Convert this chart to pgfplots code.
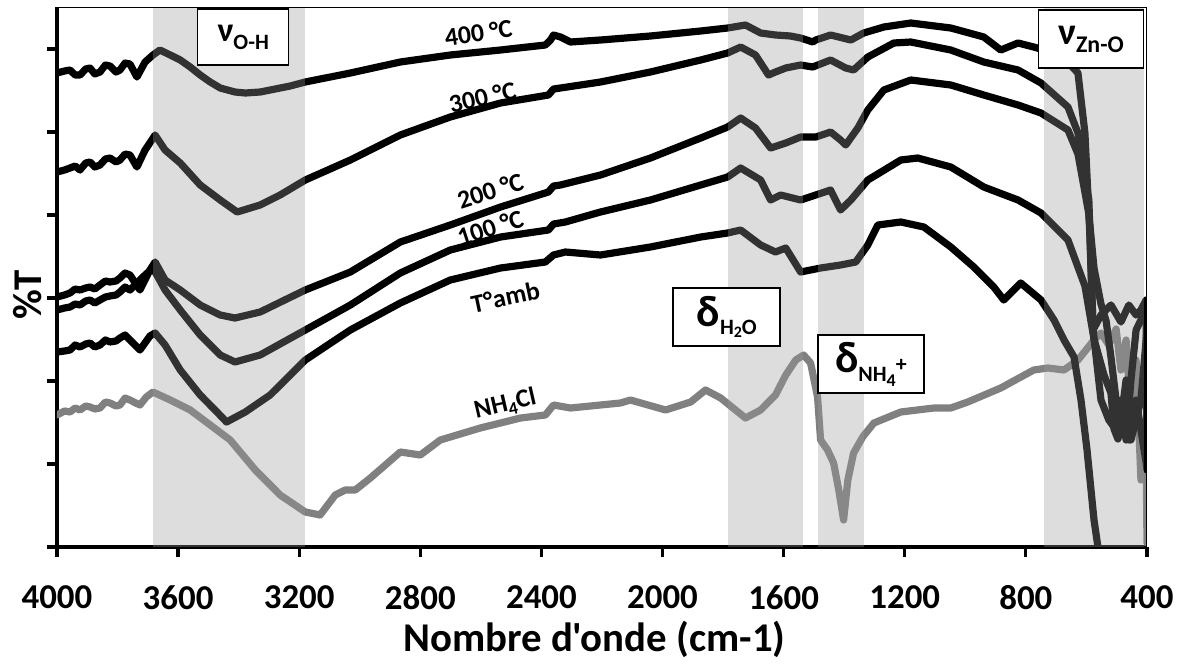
\documentclass[border=0pt]{standalone}
\usepackage{fontspec}
\setmainfont{Carlito}[Ligatures=TeXOff]
\usepackage{pgfplots}
\pgfplotsset{compat=1.18}
\begin{document}
\begin{tikzpicture}
\begin{axis}[
  at={(0,0)}, anchor=south west,
  width=545bp, height=270bp, scale only axis,
  xmin=400, xmax=4000, ymin=0, ymax=540, x dir=reverse,
  axis x line*=bottom, axis y line*=left,
  axis line style={line width=2bp, black},
  xtick={400,800,...,4000},
  ytick={0,83,166,249,332,415,498}, yticklabels={},
  tick align=outside, major tick length=5bp,
  tick style={line width=1.6bp, black},
  minor tick num=0,
  /pgf/number format/assume math mode=true,
  /pgf/number format/1000 sep={},
  xticklabel style={font=\fontsize{17.5}{20}\selectfont\bfseries, anchor=north, inner sep=0pt, yshift=-14bp},
  xlabel={Nombre d'onde (cm-1)},
  xlabel style={font=\fontsize{20.5}{22}\selectfont\bfseries, at={(axis description cs:0.493,-0.194)}, anchor=base},
  ylabel={\%T},
  ylabel style={font=\fontsize{20.5}{22}\selectfont\bfseries, at={(axis description cs:-0.0266,0.467)}, anchor=center},
  every axis plot/.append style={line width=3.6bp, line join=round, line cap=round},
]
% NH4Cl
\addplot[color=black!50] coordinates {
(4000,132)(3975,136)(3957,135)(3940,139)(3924,137)(3905,141)(3891,140)(3875,138)(3858,139)(3840,145)(3825,144)(3805,141)(3792,142)(3775,149)(3759,147)(3740,144)(3726,142)(3705,150)(3683,155)
(3626,147)(3560,137)(3494,122)(3428,107)(3345,77)(3263,52)(3180,35)(3131,32)(3081,52)(3048,57)
(3015,57)(2965,69)(2866,95)(2800,92)(2734,107)(2602,119)(2469,129)(2387,132)(2360,142)(2304,139)
(2139,144)(2106,147)(1990,137)(1907,145)(1858,157)(1808,149)(1759,137)(1726,129)(1676,137)(1627,152)
(1593,172)(1560,187)(1534,192)(1511,184)(1488,150)(1478,107)(1455,97)(1435,84)(1418,57)(1402,27)
(1388,67)(1369,94)(1339,110)(1302,124)(1213,135)(1104,139)(1048,139)(992,145)(883,159)(774,177)
(727,179)(674,177)(628,187)(575,207)(552,214)(526,202)(502,218)(486,177)(469,207)(453,127)
(436,187)(420,67)(403,97)(400,4)};
% T amb
\addplot[color=black] coordinates {
(4000,195)(3975,196)(3957,197)(3940,202)(3924,200)(3905,203)(3891,204)(3875,200)(3858,202)(3840,207)(3825,205)(3805,206)(3792,209)(3775,212)(3759,207)(3726,197)(3693,211)
(3676,214)(3643,202)(3593,177)(3527,152)(3478,137)(3440,125)(3378,135)(3296,152)(3180,187)(3031,217)
(2866,244)(2701,267)(2535,279)(2387,285)(2360,292)(2321,295)(2205,292)(2040,300)(1874,310)(1785,314)
(1742,317)(1676,302)(1627,295)(1593,299)(1544,275)(1478,279)(1412,282)(1362,285)(1322,302)(1289,322)
(1213,325)(1137,320)(1048,300)(972,280)(906,260)(873,247)(817,264)(750,247)(707,227)(674,207)
(641,190)(618,147)(598,97)(575,27)(562,0)(552,-13)};
% 100 C
\addplot[color=black] coordinates {
(4000,237)(3975,239)(3957,240)(3940,243)(3924,242)(3905,246)(3891,247)(3875,244)(3858,247)(3840,250)(3825,251)(3805,252)(3792,255)(3775,260)(3759,257)(3709,272)(3683,279)
(3643,257)(3593,237)(3527,212)(3461,192)(3412,185)(3329,192)(3180,217)(3031,242)(2866,274)(2701,297)
(2535,310)(2377,317)(2360,323)(2321,325)(2205,335)(2040,347)(1874,362)(1785,370)(1742,379)(1676,367)
(1643,347)(1610,352)(1544,347)(1494,352)(1445,357)(1412,337)(1378,347)(1322,367)(1213,387)(1157,389)
(1048,380)(939,360)(826,347)(750,334)(661,307)(605,261)(575,208)(542,172)(519,154)(509,118)
(496,108)(479,127)(460,107)(436,147)(420,117)(400,79)};
% 200 C
\addplot[color=black] coordinates {
(4000,250)(3975,252)(3957,254)(3940,258)(3924,257)(3905,259)(3891,260)(3875,258)(3858,262)(3840,266)(3825,265)(3805,266)(3792,269)(3775,274)(3759,272)(3726,257)(3693,277)
(3676,285)(3643,267)(3593,257)(3527,242)(3461,232)(3412,229)(3329,235)(3180,257)(3031,275)(2866,305)
(2701,322)(2535,340)(2377,355)(2360,361)(2337,362)(2205,372)(2040,389)(1874,409)(1785,420)(1742,429)
(1693,419)(1643,399)(1593,404)(1544,410)(1494,410)(1445,415)(1412,407)(1395,402)(1355,419)(1322,437)
(1269,457)(1180,467)(1048,462)(939,452)(826,442)(750,434)(661,417)(628,393)(592,333)(575,279)
(552,243)(535,226)(519,190)(502,147)(486,127)(469,167)(453,107)(420,147)(400,217)};
% 300 C
\addplot[color=black] coordinates {
(4000,375)(3975,377)(3957,379)(3940,381)(3924,377)(3905,384)(3891,385)(3875,380)(3858,382)(3840,388)(3825,389)(3805,385)(3792,387)(3775,393)(3759,392)(3736,380)(3709,397)
(3676,412)(3643,397)(3593,384)(3527,362)(3461,347)(3405,335)(3329,342)(3263,352)(3180,367)(3031,387)
(2866,412)(2701,430)(2535,444)(2377,452)(2360,458)(2337,459)(2205,465)(2040,475)(1874,487)(1785,494)
(1742,500)(1693,492)(1650,472)(1627,475)(1593,479)(1544,482)(1504,480)(1445,487)(1395,479)(1369,477)
(1322,490)(1236,504)(1180,505)(1048,497)(939,485)(826,477)(750,464)(661,440)(628,414)(592,347)
(578,217)(552,147)(526,127)(502,117)(486,147)(469,107)(453,167)(436,217)(420,227)(400,237)};
% 400 C
\addplot[color=black] coordinates {
(4000,474)(3975,476)(3957,477)(3940,472)(3924,472)(3905,478)(3891,479)(3875,473)(3858,475)(3840,482)(3825,481)(3805,475)(3792,477)(3775,484)(3759,483)(3736,470)(3709,485)
(3683,492)(3660,497)(3626,492)(3593,487)(3560,480)(3527,472)(3494,465)(3461,459)(3412,455)(3378,454)
(3329,455)(3296,457)(3230,461)(3180,465)(3031,474)(2866,485)(2701,492)(2535,497)(2387,502)(2370,507)
(2360,512)(2337,510)(2304,505)(2205,507)(2040,511)(1874,516)(1785,519)(1726,522)(1676,514)(1627,512)
(1577,511)(1544,509)(1504,505)(1494,507)(1445,512)(1378,507)(1336,514)(1269,520)(1180,524)(1048,519)
(939,510)(883,497)(826,504)(774,500)(684,492)(628,474)(605,414)(589,314)(578,217)(552,232)
(519,242)(486,225)(460,242)(436,232)(420,237)(403,247)(400,77)};
% shaded bands
\fill[black!40, opacity=0.33] (axis cs:3683,0) rectangle (axis cs:3180,540);
\fill[black!40, opacity=0.33] (axis cs:1785,0) rectangle (axis cs:1537,540);
\fill[black!40, opacity=0.33] (axis cs:1488,0) rectangle (axis cs:1336,540);
\fill[black!40, opacity=0.33] (axis cs:740,0) rectangle (axis cs:410,540);
% frame top/right
\draw[line width=0.8bp] (rel axis cs:0,1) -- (rel axis cs:1,1) -- (rel axis cs:1,0);
% curve labels
\begin{scope}[every node/.style={font=\fontsize{13}{14}\selectfont\bfseries, inner sep=0pt}]
\node[rotate=8] at (axis cs:2608,514) {400 °C};
\node[rotate=13] at (axis cs:2595,450) {300 °C};
\node[rotate=18] at (axis cs:2569,356) {200 °C};
\node[rotate=18] at (axis cs:2569,319) {100 °C};
\node[rotate=12] at (axis cs:2519,250) {T°amb};
\node[rotate=13] at (axis cs:2519,142) {NH\raisebox{-2.5bp}{\fontsize{9}{10}\selectfont 4}Cl};
\end{scope}
% band boxes
\begin{scope}[every node/.style={draw, line width=0.8bp, fill=white, inner sep=0pt, font=\bfseries}]
\node[minimum width=45.5bp, minimum height=28bp] at (axis cs:3385,510)
  {\fontsize{17}{18}\selectfont ν\raisebox{-4bp}{\fontsize{11}{12}\selectfont O-H}};
\node[minimum width=52.5bp, minimum height=29bp] at (axis cs:585,508)
  {\fontsize{19}{20}\selectfont ν\raisebox{-4bp}{\fontsize{12}{13}\selectfont Zn-O}};
\node[minimum width=53.5bp, minimum height=29bp] at (axis cs:1788,230)
  {\fontsize{22}{24}\selectfont δ\raisebox{-4bp}{\fontsize{11}{12}\selectfont H\raisebox{-1.5bp}{\fontsize{8}{9}\selectfont 2}O}};
\node[minimum width=53bp, minimum height=29bp] at (axis cs:1312,183)
  {\fontsize{22}{24}\selectfont δ\raisebox{-4.5bp}{\fontsize{11}{12}\selectfont NH\raisebox{-2.5bp}{\fontsize{9}{10}\selectfont 4}\raisebox{5bp}{+}}};
\end{scope}
\end{axis}
\pgfresetboundingbox
\path[use as bounding box] (-28.5bp,-59bp) rectangle (565.5bp,273.5bp);
\end{tikzpicture}
\end{document}
